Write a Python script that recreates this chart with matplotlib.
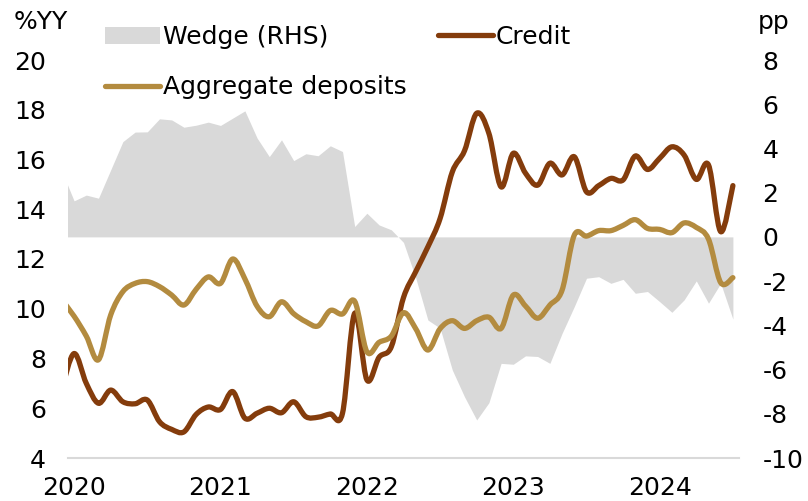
import numpy as np
import matplotlib
matplotlib.use("Agg")
import matplotlib.pyplot as plt
from matplotlib.path import Path
from matplotlib.patches import PathPatch, Patch
from matplotlib.lines import Line2D

plt.rcParams.update({
    "font.family": "DejaVu Sans",
    "font.size": 18,
    "axes.unicode_minus": False,
})

# monthly data, Dec 2019 .. Jul 2024 (first point sits just left of the axis)
month_idx = np.arange(-1, 55)

credit = [
    6.8, 8.2, 7.0, 6.2, 6.73, 6.26, 6.18, 6.33, 5.46, 5.15, 5.05, 5.75, 6.05,
    5.95, 6.67, 5.6, 5.8, 6.0, 5.82, 6.26, 5.66, 5.64, 5.77, 5.8, 9.82, 7.14,
    8.05, 8.47, 10.45, 11.49, 12.49, 13.63, 15.5, 16.35, 17.86, 17.05, 14.9,
    16.25, 15.45, 14.97, 15.85, 15.38, 16.11, 14.7, 14.95, 15.24, 15.18, 16.14,
    15.6, 16.05, 16.51, 16.18, 15.2, 15.78, 13.1, 14.95,
]

deposits = [
    10.35, 9.7, 8.9, 7.95, 9.75, 10.69, 11.02, 11.09, 10.89, 10.55, 10.15, 10.78,
    11.28, 11.02, 12.0, 11.2, 10.1, 9.68, 10.28, 9.8, 9.48, 9.31, 9.93, 9.79,
    10.3, 8.27, 8.65, 8.9, 9.84, 9.2, 8.34, 9.2, 9.52, 9.21, 9.52, 9.66, 9.21,
    10.55, 10.11, 9.62, 10.15, 10.75, 12.96, 12.92, 13.14, 13.14, 13.35, 13.58,
    13.23, 13.19, 13.06, 13.45, 13.27, 12.8, 11.05, 11.25,
]

wedge = [
    2.97, 1.63, 1.89, 1.75, 3.03, 4.31, 4.74, 4.75, 5.34, 5.29, 4.96, 5.05, 5.19,
    5.04, 5.37, 5.70, 4.47, 3.63, 4.39, 3.45, 3.76, 3.67, 4.12, 3.86, 0.47, 1.07,
    0.54, 0.32, -0.25, -1.85, -3.76, -4.13, -6.02, -7.23, -8.28, -7.50, -5.72,
    -5.76, -5.38, -5.41, -5.72, -4.36, -3.15, -1.87, -1.80, -2.10, -1.92, -2.55,
    -2.47, -2.93, -3.41, -2.85, -1.99, -3.00, -2.10, -3.72,
]

year_pos = [0, 12, 24, 36, 48]
year_labels = ["2020", "2021", "2022", "2023", "2024"]

CREDIT_C = "#843C0C"
DEP_C = "#B38B3F"
WEDGE_C = "#D9D9D9"


def smooth_path(xs, ys):
    """Excel-style smoothed line as a cubic bezier path."""
    pts = np.column_stack([xs, ys]).astype(float)
    n = len(pts)
    verts = [pts[0]]
    codes = [Path.MOVETO]
    for i in range(n - 1):
        p0 = pts[max(i - 1, 0)]
        p1 = pts[i]
        p2 = pts[i + 1]
        p3 = pts[min(i + 2, n - 1)]
        verts += [p1 + (p2 - p0) / 6, p2 - (p3 - p1) / 6, p2]
        codes += [Path.CURVE4] * 3
    return Path(verts, codes)


fig = plt.figure(figsize=(8.08, 5.01), dpi=100)
ax = fig.add_axes([68 / 808, 1 - 458 / 501, (739 - 68) / 808, (458 - 60) / 501])
ax2 = ax.twinx()

# wedge on the right axis, drawn behind
ax2.fill_between(month_idx, wedge, 0, color=WEDGE_C, linewidth=0)
ax2.set_ylim(-10, 8)
ax2.set_yticks(np.arange(-10, 9, 2))

ax.set_zorder(ax2.get_zorder() + 1)
ax.patch.set_visible(False)

for vals, color in [(credit, CREDIT_C), (deposits, DEP_C)]:
    ax.add_patch(PathPatch(smooth_path(month_idx, vals), facecolor="none",
                           edgecolor=color, lw=3.8, capstyle="round",
                           joinstyle="round"))

ax.set_xlim(-0.5, 54.5)
ax.set_ylim(4, 20)
ax.set_yticks(np.arange(4, 21, 2))
ax.set_xticks(year_pos)
ax.set_xticklabels(year_labels)

for a in (ax, ax2):
    for s in ["top", "left", "right", "bottom"]:
        a.spines[s].set_visible(False)
    a.tick_params(length=0)
ax.tick_params(axis="y", pad=16)
ax2.tick_params(axis="y", pad=17)
ax.tick_params(axis="x", pad=13)
ax.axhline(4, color="#D9D9D9", lw=1.5, clip_on=False)

fig.text(14 / 808, 1 - 22 / 501, "%YY", ha="left", va="center")
fig.text(790 / 808, 1 - 22 / 501, "pp", ha="right", va="center")

handles = [
    Patch(facecolor=WEDGE_C, edgecolor="none"),
    Line2D([], [], color=DEP_C, lw=3.8, solid_capstyle="round"),
    Line2D([], [], color=CREDIT_C, lw=3.8, solid_capstyle="round"),
]
labels = ["Wedge (RHS)", "Aggregate deposits", "Credit"]
fig.legend(handles, labels, ncol=2, frameon=False,
           loc="upper left", bbox_to_anchor=(105 / 808, 1 - 25 / 501),
           handlelength=2.2, handleheight=0.7, handletextpad=0.12,
           labelspacing=1.05, columnspacing=1.25, borderpad=0, borderaxespad=0)

fig.savefig("out.png", dpi=100)
